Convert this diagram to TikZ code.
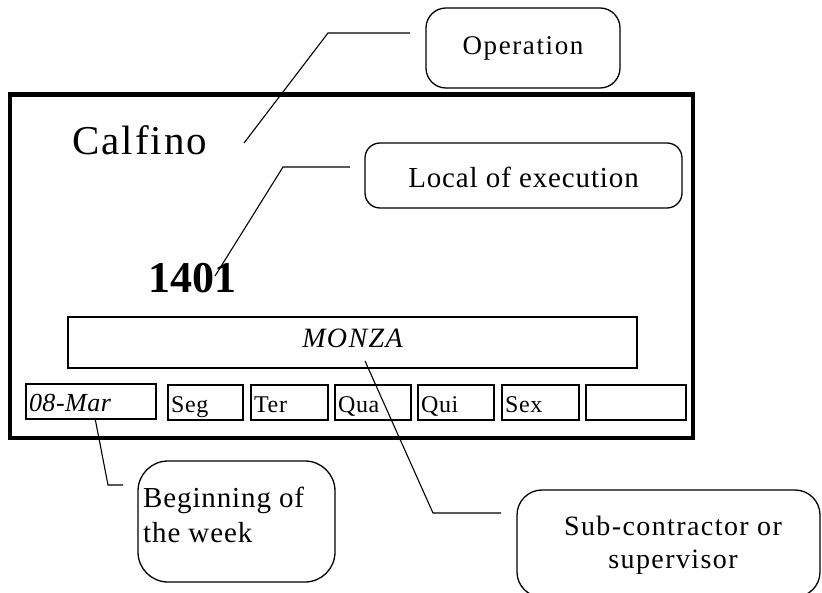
\documentclass[tikz,border=0pt]{standalone}
\usepackage{fontspec}
\setmainfont{Liberation Serif}
\begin{document}
\begin{tikzpicture}[x=1pt,y=-1pt,
  frame/.style={draw, line width=4.5pt, inner sep=0pt},
  callout/.style={draw, line width=1.3pt, inner sep=0pt},
  bar/.style={draw, line width=1.8pt, inner sep=0pt},
  cell/.style={draw, line width=1.8pt, inner xsep=3pt, inner ysep=0pt,
    minimum height=35pt, text height=22pt, text depth=1pt, align=left,
    font=\fontsize{24}{28}\selectfont\addfontfeature{LetterSpace=3}},
  leader/.style={line width=1.1pt},
  freetext/.style={inner sep=0pt}]
\clip (0,0) rectangle (822,593);

% main frame
\node[frame, minimum width=683pt, minimum height=343.5pt] (frame) at (351.5,266.25) {};

% free texts
\node[freetext, anchor=base west, font=\fontsize{41}{48}\selectfont\addfontfeature{LetterSpace=5}] (calfino) at (72,155) {Calfino};
\node[freetext, anchor=base west, font=\fontsize{44}{50}\selectfont\bfseries] (num) at (148,293) {1401};

% callout boxes
\node[callout, rounded corners=20pt, minimum width=194pt, minimum height=80pt,
  text height=19pt, text depth=5pt,
  font=\fontsize{27}{32}\selectfont\addfontfeature{LetterSpace=6}] (op) at (523,48) {Operation};
\node[callout, rounded corners=15pt, minimum width=317pt, minimum height=65pt,
  text height=25pt, text depth=0pt,
  font=\fontsize{29}{34}\selectfont\addfontfeature{LetterSpace=3}] (loc) at (523.5,175.5) {Local of execution};

% location bar
\node[bar, minimum width=569pt, minimum height=51pt, text height=19pt, text depth=8pt,
  font=\fontsize{28}{32}\selectfont\itshape\addfontfeature{LetterSpace=5}] (monza) at (352.5,342.5) {MONZA};

% day cells
\node[cell, text width=124pt, font=\fontsize{26}{30}\selectfont\itshape\addfontfeature{LetterSpace=2}] (date) at (91,401.5) {08-Mar};
\node[cell, text width=69pt] (seg) at (205.5,402.5) {Seg};
\node[cell, text width=71pt] (ter) at (289.5,402.5) {Ter};
\node[cell, text width=70pt] (qua) at (373,402.5) {Qua};
\node[cell, text width=70pt] (qui) at (456,402.5) {Qui};
\node[cell, text width=71pt] (sex) at (540.5,402.5) {Sex};
\node[cell, text width=94pt] (sab) at (636,402.5) {};

% lower callouts
\node[callout, rounded corners=30pt, minimum width=197pt, minimum height=121pt] (beg) at (236.5,521.5) {};
\node[freetext, anchor=base west, font=\fontsize{29}{35}\selectfont\addfontfeature{LetterSpace=3}] (begtxt) at (143,507)
  {\parbox[t]{190pt}{\raggedright Beginning of\\the week}};
\node[callout, rounded corners=25pt, minimum width=303pt, minimum height=107pt] (sub) at (668.5,543.5) {};
\node[freetext, anchor=base, font=\fontsize{28}{33}\selectfont\addfontfeature{LetterSpace=5}] (subtxt) at (673,535)
  {\parbox[t]{300pt}{\centering Sub-contractor or\\supervisor}};

% leader points
\coordinate (opA) at (410,33);
\coordinate (opB) at (328,33);
\coordinate (opC) at (244,143);
\coordinate (locA) at (350,167);
\coordinate (locB) at (283,167);
\coordinate (locC) at (215,276);
\coordinate (dateA) at (95,418);
\coordinate (dateB) at (108,485);
\coordinate (dateC) at (123,485);
\coordinate (monA) at (365,361);
\coordinate (monB) at (433,513);
\coordinate (monC) at (501,513);

\draw[leader] (opA) -- (opB) -- (opC);
\draw[leader] (locA) -- (locB) -- (locC);
\draw[leader] (dateA) -- (dateB) -- (dateC);
\draw[leader] (monA) -- (monB) -- (monC);
\end{tikzpicture}
\end{document}
